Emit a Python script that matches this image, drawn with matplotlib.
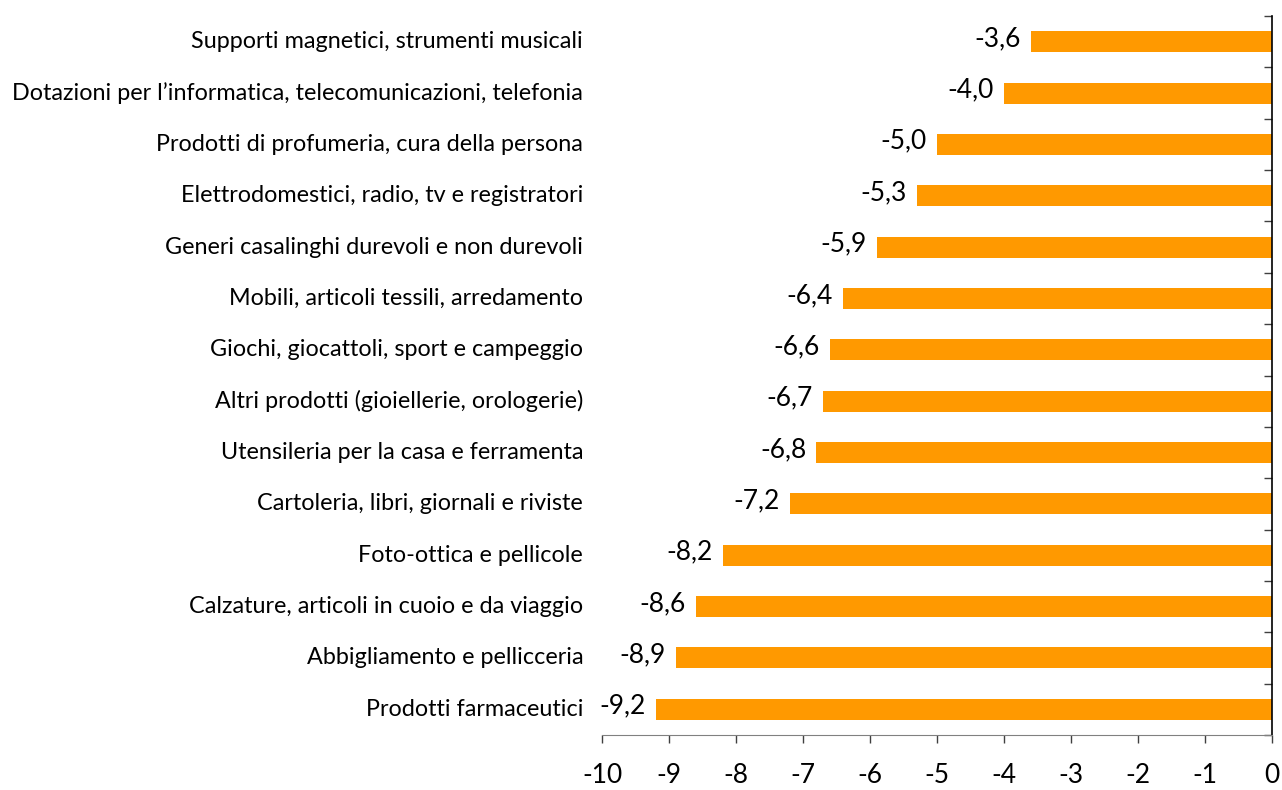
import numpy as np
import matplotlib
matplotlib.use("Agg")
import matplotlib.pyplot as plt

# categorie (dall'alto verso il basso) e variazioni percentuali
categories = [
    "Supporti magnetici, strumenti musicali",
    "Dotazioni per l\u2019informatica, telecomunicazioni, telefonia",
    "Prodotti di profumeria, cura della persona",
    "Elettrodomestici, radio, tv e registratori",
    "Generi casalinghi durevoli e non durevoli",
    "Mobili, articoli tessili, arredamento",
    "Giochi, giocattoli, sport e campeggio",
    "Altri prodotti (gioiellerie, orologerie)",
    "Utensileria per la casa e ferramenta",
    "Cartoleria, libri, giornali e riviste",
    "Foto-ottica e pellicole",
    "Calzature, articoli in cuoio e da viaggio",
    "Abbigliamento e pellicceria",
    "Prodotti farmaceutici",
]
values = [-3.6, -4.0, -5.0, -5.3, -5.9, -6.4, -6.6, -6.7, -6.8, -7.2, -8.2, -8.6, -8.9, -9.2]
xticks = [-10, -9, -8, -7, -6, -5, -4, -3, -2, -1, 0]

plt.rcParams["font.family"] = ["Lato", "DejaVu Sans"]
barColor = "#FF9900"

fig = plt.figure(figsize=(12.82, 7.9), dpi=100)
ax = fig.add_axes([602 / 1282, 1 - 735 / 790, 670 / 1282, 719 / 790])

n = len(categories)
pos = np.arange(n)[::-1]
ax.barh(pos, values, height=0.41, color=barColor, zorder=2)

for p, v in zip(pos, values):
    ax.text(v - 0.15, p + 0.06, ("%.1f" % v).replace(".", ","), ha="right", va="center",
            fontsize=19, color="black")

ax.set_xlim(-10, 0)
ax.set_ylim(-0.5, n - 0.5)
ax.set_xticks(xticks)
ax.set_xticklabels([str(t) for t in xticks], fontsize=19)
ax.tick_params(axis="x", direction="out", length=5.8, width=1, pad=14.5, colors="#404040",
               labelcolor="black")

# etichette categorie a sinistra dell'asse
for p, c in zip(pos, categories):
    ax.text(-10.28, p, c, ha="right", va="center", fontsize=16.8, color="black")

# asse verticale a destra (x = 0) con tacche ai confini delle categorie
ax.yaxis.tick_right()
ax.set_yticks(np.arange(-0.5, n, 1.0))
ax.set_yticklabels([])
ax.tick_params(axis="y", direction="in", length=5.8, width=1, colors="#404040")

ax.spines["top"].set_visible(False)
ax.spines["left"].set_visible(False)
ax.spines["bottom"].set_color("#808080")
ax.spines["right"].set_color("black")
ax.spines["right"].set_linewidth(1.2)

fig.savefig("out.png", dpi=100)
